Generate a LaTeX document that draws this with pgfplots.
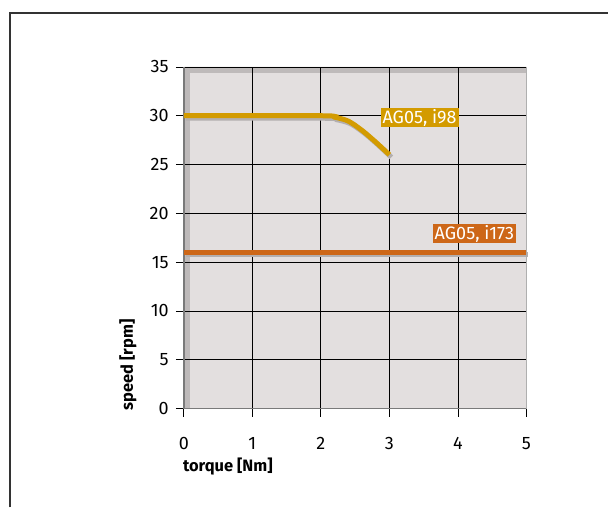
\documentclass[border=0pt]{standalone}
\usepackage{fontspec}
\setmainfont{Fira Sans}
\usepackage{pgfplots}
\pgfplotsset{compat=1.18}
\definecolor{plotbg}{HTML}{E3DFDF}
\definecolor{bandcol}{HTML}{BEBABA}
\definecolor{shadowcol}{HTML}{B3AFAF}
\definecolor{framecol}{HTML}{333333}
\definecolor{axcol}{HTML}{7A7A7A}
\definecolor{ycol}{HTML}{D39B00}
\definecolor{ocol}{HTML}{CD6718}

\begin{document}
\fontsize{18}{21}\selectfont
\begin{tikzpicture}[font=\fontsize{18}{21}\selectfont]
\path (0pt,0pt) rectangle (609pt,508pt);
\draw[framecol, line width=1.3pt] (10pt,0pt) -- (10pt,495pt) -- (609pt,495pt);

\begin{axis}[
    at={(184pt,99pt)}, anchor=south west,
    scale only axis, width=343pt, height=342pt,
    xmin=0, xmax=5, ymin=0, ymax=35,
    xtick={0,...,5}, ytick={0,5,...,35},
    set layers=standard,
    axis x line*=bottom, axis y line*=left,
    axis line style={axcol, line width=1.5pt, -},
    grid=major,
    major grid style={black, line width=0.8pt},
    tick align=outside, major tick length=8pt,
    tick style={black, line width=0.8pt},
    xticklabel style={yshift=-15pt},
    yticklabel style={xshift=-1pt},
    /pgf/number format/assume math mode=true,
    ticklabel style={font=\fontsize{18}{21}\selectfont},
    clip=false,
]
% background and darker edge bands
\addplot[fill=plotbg, draw=none, on layer=axis background] coordinates {
    (0,0) (5,0) (5,35) (0,35)
} -- cycle;
\addplot[fill=bandcol, draw=none, on layer=axis background] coordinates {
    (0,0) (0.0875,0) (0.0875,34.386) (5,34.386) (5,35) (0,35)
} -- cycle;

% i98
\addplot[shadowcol, line width=5pt, smooth, xshift=2pt, yshift=-2.5pt] coordinates {
    (0,30) (2,30) (2.2,29.85) (2.4,29.45) (2.6,28.5) (2.8,27.3) (3,26)
};
\addplot[ycol, line width=5pt, smooth] coordinates {
    (0,30) (2,30) (2.2,29.85) (2.4,29.45) (2.6,28.5) (2.8,27.3) (3,26)
};
% i173
\addplot[shadowcol, line width=5pt, xshift=2pt, yshift=-2.5pt] coordinates {
    (0,16) (5,16)
};
\addplot[ocol, line width=5pt] coordinates {
    (0,16) (5,16)
};
\draw[axcol!60, line width=1pt] (axis cs:5,0) -- (axis cs:5,35);

\node[fill=ycol, text=white, inner xsep=2pt, inner ysep=1pt] at (axis cs:3.44,29.8) {AG05, i98};
\node[fill=ocol, text=white, inner xsep=2pt, inner ysep=1pt] at (axis cs:4.24,17.9) {AG05, i173};
\end{axis}

\node[rotate=90, anchor=west, font=\fontsize{16.5}{20}\selectfont\bfseries] at (128pt,91pt) {speed [rpm]};
\node[anchor=west, font=\fontsize{16.5}{20}\selectfont\bfseries] at (177pt,41pt) {torque [Nm]};
\end{tikzpicture}
\end{document}
